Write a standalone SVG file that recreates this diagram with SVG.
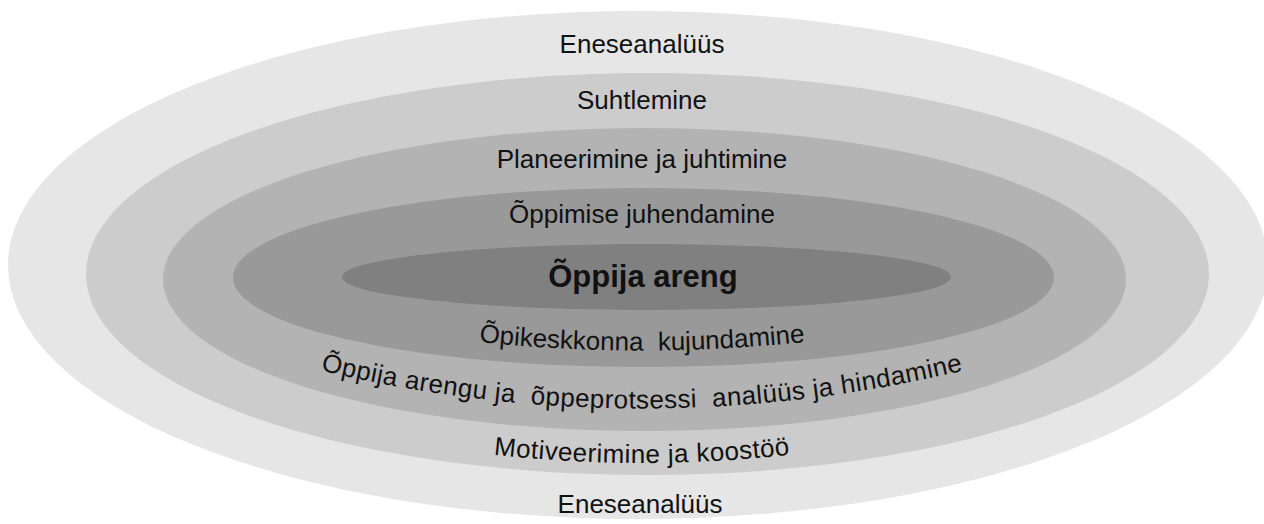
<svg xmlns="http://www.w3.org/2000/svg" width="1264" height="524" viewBox="0 0 1264 524">
  <style>
    .lbl { font-family: "Liberation Sans", Arial, sans-serif; font-size: 26px; fill: #111; text-anchor: middle; white-space: pre; }
    .core { font-family: "Liberation Sans", Arial, sans-serif; font-size: 31px; font-weight: bold; fill: #111; text-anchor: middle; }
    .wide { letter-spacing: 0.4px; }
  </style>
  <defs>
    <path id="arcKuj" d="M 470,341 Q 642,360 814,341"/>
    <path id="arcAnal" d="M 314,369 Q 642,448 970,369"/>
    <path id="arcMot" d="M 480,453 Q 642,473 804,453"/>
  </defs>
  <rect width="1264" height="524" fill="#ffffff"/>
  <g id="ring1-eneseanaluus">
    <ellipse cx="638" cy="265" rx="630" ry="254" fill="#e6e6e6"/>
  </g>
  <g id="ring2-suhtlemine">
    <ellipse cx="647.5" cy="274" rx="561.5" ry="201" fill="#cccccc"/>
  </g>
  <g id="ring3-planeerimine">
    <ellipse cx="644.5" cy="279.5" rx="481.5" ry="151.5" fill="#b3b3b3"/>
  </g>
  <g id="ring4-juhendamine">
    <ellipse cx="643.5" cy="277.5" rx="410.5" ry="89.5" fill="#999999"/>
  </g>
  <g id="ring5-core">
    <ellipse cx="646.5" cy="277" rx="304.5" ry="33" fill="#808080"/>
  </g>
  <g id="labels">
    <text class="lbl" x="642" y="53">Eneseanalüüs</text>
    <text class="lbl" x="642" y="109">Suhtlemine</text>
    <text class="lbl" x="642" y="168">Planeerimine ja juhtimine</text>
    <text class="lbl" x="642" y="223">Õppimise juhendamine</text>
    <text class="core" x="643" y="287">Õppija areng</text>
    <text class="lbl" xml:space="preserve"><textPath href="#arcKuj" startOffset="50%">Õpikeskkonna  kujundamine</textPath></text>
    <text class="lbl wide" xml:space="preserve"><textPath href="#arcAnal" startOffset="50%">Õppija arengu ja  õppeprotsessi  analüüs ja hindamine</textPath></text>
    <text class="lbl wide" xml:space="preserve"><textPath href="#arcMot" startOffset="50%">Motiveerimine ja koostöö</textPath></text>
    <text class="lbl" x="640" y="513">Eneseanalüüs</text>
  </g>
  <g id="connectors"/>
</svg>
